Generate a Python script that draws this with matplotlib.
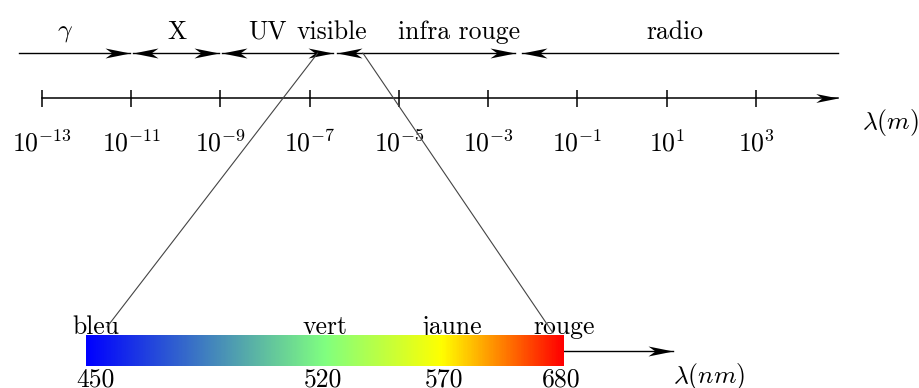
import matplotlib

matplotlib.use("Agg")
import matplotlib.pyplot as plt
import numpy as np
from matplotlib.colors import LinearSegmentedColormap
from matplotlib.markers import MarkerStyle
from matplotlib.patches import ConnectionPatch
from matplotlib.path import Path

# --- data -------------------------------------------------------------
exponents = [-13, -11, -9, -7, -5, -3, -1, 1, 3]          # tick labels 10^e (m)
band_names = [r"$\gamma$", "X", "UV", "visible", "infra rouge", "radio"]
band_spans = [(-13.52, -11.03), (-10.96, -9.03), (-8.97, -6.48),
              (-6.39, -2.40), (-2.24, 4.84)]             # log10(lambda) of arrows
band_heads = [(False, True), (True, True), (True, True), (True, True), (True, False)]
visible_from = [-6.82, -5.81]                              # zoom start on top axis

vis_nm = [450, 520, 570, 680]
vis_names = ["bleu", "vert", "jaune", "rouge"]
vis_colors = ["#0000ff", "#80ff80", "#ffff00", "#ff0000"]
vis_stops = [0.0, 0.5, 0.745, 1.0]

# --- layout (pixel rows, y grows downwards) ---------------------------
W, H = 920, 388
PX_PER_DEC = 44.625
X0 = -13 - 42 / PX_PER_DEC
label_y, band_y, axis_y, ticklab_y = 32, 53, 98, 143
band_label_x = [-12.48, -9.97, -7.94, -6.50, -3.66, 1.19]
name_x = [0.02, 0.50, 0.765, 1.0]
num_x = [0.02, 0.495, 0.75, 0.995]

plt.rcParams["mathtext.fontset"] = "cm"
plt.rcParams["font.family"] = ["cmr10", "DejaVu Serif"]
FS = 18.5

TIP = Path([(0, 0), (-1, 0.2), (-0.72, 0), (-1, -0.2), (0, 0)],
           [Path.MOVETO, Path.LINETO, Path.LINETO, Path.LINETO, Path.CLOSEPOLY])
RIGHT = MarkerStyle(TIP)
LEFT = MarkerStyle(Path(TIP.vertices * [-1, 1], TIP.codes))


def head(ax, x, y, marker, ms=36):
    ax.plot([x], [y], ls="none", marker=marker, ms=ms, mfc="black",
            mec="black", mew=0, clip_on=False, zorder=4)


fig = plt.figure(figsize=(W / 100, H / 100), dpi=100)
ax = fig.add_axes([0, 0, 1, 1])
ax.set_xlim(X0, X0 + W / PX_PER_DEC)
ax.set_ylim(H, 0)
ax.axis("off")

# bands with arrows
for (a, b), (hl, hr) in zip(band_spans, band_heads):
    ax.plot([a, b], [band_y, band_y], color="black", lw=1.0)
    if hl:
        head(ax, a, band_y, LEFT)
    if hr:
        head(ax, b, band_y, RIGHT)
for name, x in zip(band_names, band_label_x):
    ax.text(x, label_y, name, ha="center", va="center", fontsize=FS)

# wavelength axis in metres
axis_end = band_spans[-1][1]
ax.plot([exponents[0], axis_end], [axis_y, axis_y], color="black", lw=1.1)
head(ax, axis_end, axis_y, RIGHT, ms=32)
ax.vlines(exponents, axis_y - 8.5, axis_y + 8.5, color="black", lw=1.1)
for e in exponents:
    ax.text(e, ticklab_y, rf"$10^{{{e}}}$", ha="center", va="center", fontsize=FS)
ax.text(axis_end + 0.53, 123, r"$\lambda(m)$", ha="left", va="center", fontsize=FS)

# visible bar
bax = fig.add_axes([86 / W, (H - 366) / H, 478 / W, 31 / H])
cmap = LinearSegmentedColormap.from_list("vis", list(zip(vis_stops, vis_colors)))
bax.imshow(np.linspace(0, 1, 600)[None, :], cmap=cmap, extent=[0, 1, 0, 1],
           aspect="auto", zorder=5)
bax.set_xlim(0, 1)
bax.set_ylim(0, 1)
bax.axis("off")
bax.plot([1, 1.228], [0.48, 0.48], color="black", lw=1.0, clip_on=False)
head(bax, 1.228, 0.48, RIGHT)
for name, x in zip(vis_names, name_x):
    bax.text(x, 1.03, name, ha="center", va="baseline", fontsize=FS, zorder=1)
for nm, x in zip(vis_nm, num_x):
    bax.text(x, -0.07, str(nm), ha="center", va="top", fontsize=FS)
bax.text(1.228, -0.33, r"$\lambda(nm)$", ha="left", va="center", fontsize=FS)

# zoom lines
for xa, xyb in zip(visible_from, [(0.044, 1.26), (0.977, 1.065)]):
    con = ConnectionPatch(xyA=(xa, band_y), coordsA=ax.transData,
                          xyB=xyb, coordsB=bax.transData,
                          color="#444444", lw=0.8, zorder=6)
    fig.add_artist(con)

fig.savefig("out.png", dpi=100)
